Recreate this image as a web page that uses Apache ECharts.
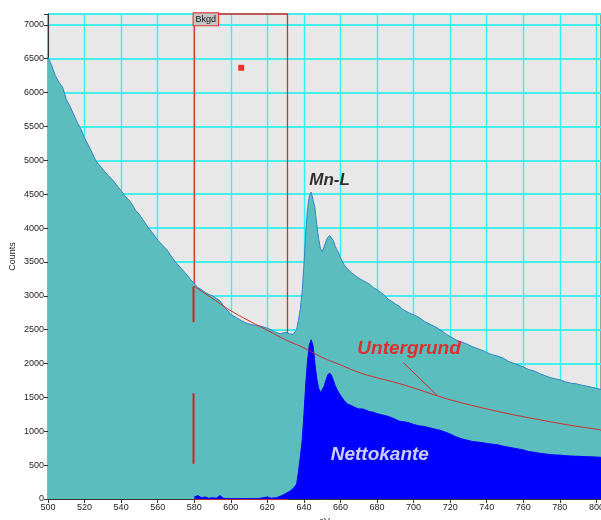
<!DOCTYPE html>
<html>
<head>
<meta charset="utf-8">
<title>Mn-L</title>
<script src="https://cdn.jsdelivr.net/npm/echarts@6/dist/echarts.min.js"></script>
<style>
    html, body { margin: 0; padding: 0; background: #fff; }
    #chart { width: 601px; height: 520px; }
</style>
</head>
<body>
<div id="chart"></div>
<script>
// spectrum (counts vs eV)
const specEv = [500, 502, 504, 506, 508, 510, 512, 514, 516, 518, 520, 522, 524, 526, 528, 530, 532, 535, 538, 540,
    542, 545, 548, 550, 552, 555, 558, 560, 563, 565, 568, 570, 573, 575, 578, 580, 582, 584, 586, 588,
    590, 592, 594, 596, 598, 600, 603, 606, 609, 612, 615, 618, 621, 624, 627, 630, 632, 634, 635, 636,
    637, 638, 639, 640, 641, 642, 643, 644, 645, 646, 647, 648, 649, 650, 651, 652, 653, 654, 655, 656,
    657, 658, 659, 660, 662, 664, 666, 668, 670, 672, 674, 676, 678, 680, 682, 684, 686, 688, 690, 692,
    694, 696, 698, 700, 703, 706, 709, 712, 715, 718, 720, 723, 726, 729, 732, 735, 738, 740, 743, 746,
    749, 752, 755, 758, 760, 763, 766, 769, 772, 775, 778, 780, 783, 786, 789, 792, 795, 798, 800, 802.5];
const specCounts = [6520, 6400, 6250, 6150, 6080, 5900, 5800, 5680, 5560, 5460, 5330, 5230, 5120, 5000, 4930, 4870, 4800, 4720, 4620, 4550,
    4480, 4390, 4260, 4200, 4120, 4000, 3900, 3820, 3740, 3680, 3560, 3490, 3400, 3340, 3240, 3180, 3120, 3090, 3050, 3020,
    3000, 2960, 2930, 2850, 2790, 2720, 2680, 2630, 2590, 2570, 2560, 2540, 2510, 2470, 2440, 2460, 2440, 2430, 2440, 2500,
    2640, 2800, 3050, 3450, 3950, 4300, 4480, 4530, 4520, 4300, 4050, 3850, 3700, 3650, 3720, 3800, 3860, 3890, 3880, 3820,
    3740, 3680, 3630, 3560, 3460, 3390, 3340, 3300, 3260, 3230, 3200, 3170, 3120, 3090, 3050, 3010, 2950, 2920, 2880, 2850,
    2800, 2770, 2740, 2720, 2680, 2620, 2580, 2540, 2490, 2430, 2400, 2350, 2320, 2290, 2250, 2220, 2190, 2160, 2130, 2110,
    2080, 2030, 2000, 1970, 1950, 1910, 1890, 1850, 1820, 1790, 1770, 1760, 1730, 1710, 1700, 1680, 1665, 1645, 1635, 1615];

// net edge (Nettokante)
const netEv = [580, 582, 584, 586, 588, 590, 592, 594, 596, 600, 605, 610, 615, 620, 622, 625, 628, 630, 632, 634,
    636, 637, 638, 639, 640, 641, 642, 643, 644, 645, 646, 647, 648, 649, 650, 651, 652, 653, 654, 655,
    656, 657, 658, 659, 660, 662, 664, 666, 668, 670, 672, 674, 676, 678, 680, 683, 686, 689, 692, 695,
    698, 700, 703, 706, 709, 712, 715, 718, 720, 723, 726, 729, 732, 735, 738, 740, 743, 746, 749, 752,
    755, 758, 760, 763, 766, 769, 772, 775, 778, 780, 783, 786, 790, 795, 800, 802.5];
const netCounts = [30, 50, 20, 30, 10, 20, 10, 50, 10, 5, 5, 5, 5, 30, 10, 20, 50, 80, 110, 150,
    220, 400, 620, 850, 1250, 1700, 2050, 2280, 2350, 2260, 2000, 1780, 1640, 1570, 1580, 1660, 1750, 1830, 1860, 1830,
    1760, 1680, 1620, 1570, 1530, 1450, 1400, 1380, 1350, 1330, 1330, 1310, 1290, 1280, 1260, 1240, 1220, 1190, 1150, 1140,
    1120, 1100, 1080, 1070, 1050, 1030, 1010, 980, 960, 920, 890, 870, 850, 840, 830, 820, 810, 800, 780, 765,
    750, 735, 725, 700, 690, 675, 665, 655, 650, 648, 640, 635, 630, 625, 620, 615];

// background fit (Untergrund)
const bgEv = [580, 590, 600, 610, 620, 630, 640, 650, 660, 670, 680, 690, 700, 710, 720, 730, 740, 750, 760, 770, 780, 790, 800, 802.5];
const bgCounts = [3140, 2960, 2780, 2630, 2490, 2350, 2230, 2090, 1980, 1870, 1790, 1720, 1640, 1550, 1465, 1395, 1330, 1270, 1215, 1165, 1115, 1070, 1030, 1015];

// background window and its markers
const bkgdWindow = [580, 631];
const bkgdHandle = [605.7, 6366];
const bkgdMarkUpper = [[579.6, 3140], [579.6, 2610]];
const bkgdMarkLower = [[579.6, 1560], [579.6, 520]];

const xTicks = { min: 500, max: 802.5, step: 20 };
const yTicks = { min: 0, max: 7160, step: 500 };

function pairs(xs, ys) {
    return xs.map(function (x, i) { return [x, ys[i]]; });
}

let myChart = echarts.init(document.getElementById("chart"));
const font = "Liberation Sans";
function note(color, size) {
    return {
        color: color, fontFamily: font, fontWeight: "bold", fontStyle: "italic", fontSize: size,
        textBorderWidth: 0, textBorderColor: "transparent", textShadowBlur: 0
    };
}

myChart.setOption({
    animation: false,
    grid: {
        left: 48, right: 0, top: 14, bottom: 21,
        outerBoundsMode: "none",
        containLabel: false,
        show: true,
        backgroundColor: "#e8e8e8",
        borderColor: "#444",
        borderWidth: 1
    },
    xAxis: {
        type: "value",
        min: xTicks.min, max: xTicks.max, interval: xTicks.step,
        name: "eV", nameLocation: "middle", nameGap: 16,
        nameTextStyle: { fontFamily: font, fontSize: 9, color: "#222" },
        axisLine: { show: true, lineStyle: { color: "#333" } },
        axisTick: { show: true, length: 4, lineStyle: { color: "#333" } },
        axisLabel: {
            fontFamily: font, fontSize: 9, color: "#222", margin: 4,
            hideOverlap: false,
            formatter: function (v) { return v % 20 === 0 ? String(v) : ""; }
        },
        splitLine: { show: true, lineStyle: { color: "#30f4f4", width: 1.4 } }
    },
    yAxis: {
        type: "value",
        min: yTicks.min, max: yTicks.max, interval: yTicks.step,
        name: "Counts", nameLocation: "middle", nameGap: 31,
        nameMoveOverlap: false,
        nameTextStyle: { fontFamily: font, fontSize: 9, color: "#222" },
        axisLine: { show: true, lineStyle: { color: "#333" } },
        axisTick: { show: true, length: 4, lineStyle: { color: "#333" } },
        axisLabel: {
            fontFamily: font, fontSize: 9, color: "#222", margin: 4,
            formatter: function (v) { return v % 500 === 0 ? String(v) : ""; }
        },
        splitLine: { show: true, lineStyle: { color: "#44eeee", width: 2 } }
    },
    series: [
        {
            name: "Spektrum",
            type: "line",
            data: pairs(specEv, specCounts),
            symbol: "none",
            lineStyle: { color: "#2f86c4", width: 1 },
            areaStyle: { color: "#5bbdbd", opacity: 1 },
            z: 2
        },
        {
            name: "Nettokante",
            type: "line",
            data: pairs(netEv, netCounts),
            symbol: "none",
            lineStyle: { color: "#0000ff", width: 1 },
            areaStyle: { color: "#0000ff", opacity: 1 },
            z: 3
        },
        {
            name: "Untergrund",
            type: "line",
            data: pairs(bgEv, bgCounts),
            smooth: true,
            symbol: "none",
            lineStyle: { color: "#d02a2a", width: 1 },
            z: 4
        },
        {
            // Bkgd window box + handle
            name: "Bkgd",
            type: "scatter",
            data: [bkgdHandle],
            symbol: "rect",
            symbolSize: 6,
            itemStyle: { color: "#ff0000" },
            z: 10,
            markArea: {
                silent: true,
                itemStyle: { color: "rgba(0,0,0,0)", borderColor: "#e82828", borderWidth: 1.3 },
                label: {
                    show: true,
                    position: "insideTopLeft",
                    distance: 0,
                    formatter: "Bkgd",
                    fontFamily: font, fontSize: 9, color: "#111",
                    backgroundColor: "#c4c4c4",
                    borderColor: "#e02828", borderWidth: 1,
                    padding: [2, 2, 1, 2]
                },
                data: [[{ xAxis: bkgdWindow[0] }, { xAxis: bkgdWindow[1] }]]
            }
        },
        {
            type: "line",
            data: bkgdMarkUpper,
            symbol: "none",
            lineStyle: { color: "#d81e1e", width: 2 },
            z: 11
        },
        {
            type: "line",
            data: bkgdMarkLower,
            symbol: "none",
            lineStyle: { color: "#d81e1e", width: 2 },
            z: 11
        },
        {
            // leader line from the label to the background curve
            type: "line",
            data: [[694.4, 2013], [712.6, 1536]],
            symbol: "none",
            lineStyle: { color: "#d02a2a", width: 1 },
            z: 11
        },
        {
            type: "scatter",
            symbolSize: 0,
            z: 12,
            label: { show: true, position: "inside", formatter: "{b}" },
            data: [
                { name: "Mn-L", value: [654, 4712], label: note("#000000", 17) },
                { name: "Untergrund", value: [697.5, 2215], label: note("#ff0a0a", 19) },
                { name: "Nettokante", value: [681.5, 650], label: note("#ffffff", 19) }
            ]
        }
    ]
});
</script>
</body>
</html>
